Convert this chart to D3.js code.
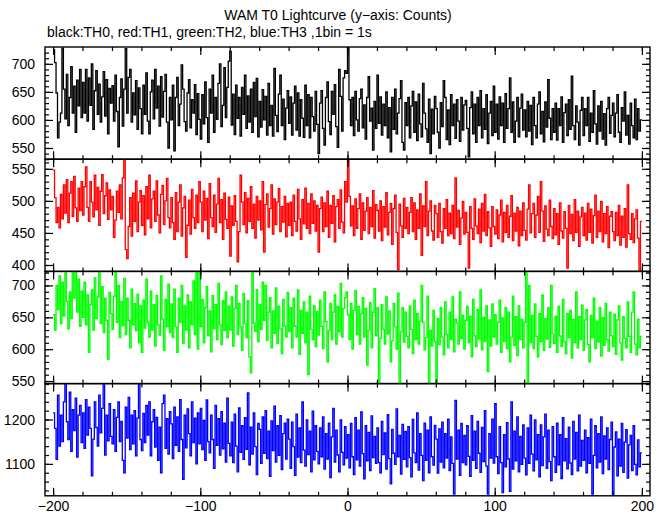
<!DOCTYPE html>
<html><head><meta charset="utf-8">
<script src="https://cdn.jsdelivr.net/npm/d3@7"></script>
<style>body{margin:0;background:#fff;} svg{display:block;} text{font-family:"Liberation Sans",Arial,Helvetica,sans-serif;fill:#000;}</style>
</head><body><svg id="c" width="669" height="515"></svg>
<script>
// ---- data: counts per 1 s bin, bin start from -200 s to 199 s ----
const binStart = -200;
const th0 = [
725,702,648,568,596,612,728,655,602,681,590,640,695,612,660,578,671,625,690,604,
667,612,690,598,675,626,700,583,652,688,610,664,596,641,686,607,672,575,656,630,
661,598,680,615,552,640,673,589,655,727,612,676,690,596,648,609,670,583,657,620,
575,662,610,684,598,575,650,671,602,690,621,660,589,677,605,651,681,596,550,640,
600,662,545,640,676,590,628,698,655,597,580,648,672,586,636,612,663,574,647,601,
566,645,593,668,604,560,655,612,680,578,640,601,665,700,588,626,693,604,658,705,
722,591,646,574,662,603,640,571,658,610,680,585,643,596,655,578,667,606,674,570,
633,587,654,600,642,573,665,590,626,571,692,608,579,646,680,590,637,565,621,652,
594,641,573,630,660,582,648,571,636,603,569,662,590,645,568,640,606,580,651,592,
540,630,652,585,555,640,668,597,574,651,610,663,588,551,690,642,580,675,688,683,
745,636,590,640,572,651,600,580,638,655,586,627,566,640,677,598,621,546,633,585,
680,594,641,573,628,590,650,568,622,543,640,583,655,575,612,638,670,560,546,631,
590,640,568,625,651,578,632,563,646,593,570,665,612,584,560,637,540,619,575,642,
620,578,550,631,588,670,640,565,618,556,645,590,628,567,636,598,562,640,582,627,
635,585,534,622,650,575,628,560,640,590,652,568,620,583,645,558,612,633,572,660,
578,628,566,641,590,630,560,647,585,620,675,578,632,560,598,640,570,621,646,582,
618,570,633,580,626,556,640,590,568,628,650,575,615,561,632,587,672,603,565,620,
578,630,564,620,590,641,560,613,628,572,636,583,678,590,565,625,596,555,617,640,
572,620,590,640,562,612,578,652,593,557,625,580,633,566,611,555,620,640,576,608,
630,570,612,645,578,560,622,598,650,573,608,557,630,590,568,637,565,620,580,600];
const th1 = [
548,505,466,490,458,510,472,525,481,533,466,512,530,476,538,489,468,520,485,530,
478,522,553,490,468,530,498,475,540,486,521,462,515,541,480,508,528,471,517,486,
507,443,470,515,482,525,472,536,564,424,410,460,505,445,512,468,531,452,498,516,
462,508,447,522,472,540,458,503,515,468,531,478,450,510,524,463,500,535,474,458,
505,466,440,513,452,498,525,445,489,507,412,462,501,448,518,474,457,509,466,530,
498,452,515,470,504,441,527,474,460,509,451,495,535,466,502,440,512,471,457,506,
414,492,462,508,468,405,452,540,498,463,513,450,504,468,522,457,495,442,507,470,
500,455,530,420,494,511,459,488,525,448,503,463,498,519,452,491,467,507,444,496,
462,498,446,509,468,453,518,472,440,502,464,520,457,496,449,511,465,500,453,493,
420,488,506,452,497,460,515,443,493,465,508,436,491,502,457,517,467,450,530,498,
568,507,461,492,446,503,457,488,511,440,497,454,484,505,449,490,460,516,442,494,
485,453,500,438,491,459,513,447,482,496,432,488,509,451,393,495,461,443,504,457,
490,449,482,505,452,497,440,486,457,511,415,492,460,530,446,484,500,453,439,493,
480,443,496,452,434,488,457,502,446,481,449,493,441,536,459,485,432,473,499,448,
482,451,395,491,457,440,503,461,449,487,435,496,453,510,446,483,458,429,491,460,
448,486,441,478,501,436,482,451,493,443,476,508,438,481,453,490,430,484,446,497,
454,439,487,525,450,480,496,443,478,507,451,530,484,437,492,456,446,501,460,441,
488,447,480,432,497,453,442,483,457,395,493,449,479,438,502,451,484,429,475,490,
446,481,439,496,451,487,434,477,509,443,484,452,499,436,480,449,491,427,476,483,
452,438,482,446,493,431,476,443,488,428,525,449,440,480,435,472,486,442,390,468];
const th2 = [
654,630,700,662,715,640,705,652,722,675,632,690,648,722,680,725,658,710,636,691,
650,705,638,685,595,670,693,630,712,648,682,724,640,698,626,680,645,584,689,656,
631,683,722,642,700,618,675,637,711,623,680,645,602,694,638,672,629,686,610,668,
595,677,633,710,642,619,691,630,670,605,684,638,622,715,647,598,678,635,702,626,
671,618,694,635,595,680,642,700,609,668,630,685,602,674,638,707,623,724,600,720,
635,678,610,665,698,621,660,596,684,632,670,615,703,638,607,676,629,690,618,667,
630,682,605,664,700,623,672,635,598,687,640,618,676,588,563,724,641,628,693,612,
670,631,705,645,700,614,658,681,602,660,625,696,609,667,632,593,678,636,619,689,
628,665,602,680,636,619,693,592,661,625,674,610,658,560,683,631,615,668,604,659,
622,677,636,601,690,643,580,629,672,615,658,685,608,667,627,703,619,664,681,690,
654,615,672,600,661,692,623,667,608,656,681,619,664,575,630,673,602,658,695,621,
665,546,617,670,631,608,682,624,660,580,613,672,635,600,688,546,627,665,611,658,
620,602,668,631,593,677,615,656,608,644,700,642,599,618,683,546,630,605,661,612,
546,648,607,665,619,591,674,623,602,658,615,682,596,647,641,608,690,617,653,600,
645,667,610,652,588,678,621,604,662,616,693,599,650,612,668,565,646,605,671,619,
654,608,642,677,595,649,612,665,601,658,580,619,683,606,651,590,668,615,647,602,
642,724,546,700,610,653,601,671,620,588,656,612,685,598,648,616,665,603,700,624,
609,652,595,667,621,604,678,612,593,656,618,661,586,647,610,690,602,651,615,669,
598,646,662,607,580,653,618,680,601,644,611,665,589,650,606,672,615,597,658,621,
604,655,592,646,668,610,583,651,617,602,674,620,595,658,690,608,591,647,602,620];
const th3 = [
1215,1180,1110,1255,1140,1210,1150,1240,1285,1195,1155,1262,1128,1222,1175,1248,1115,1210,1232,1148,
1215,1135,1245,1165,1228,1180,1073,1156,1240,1182,1140,1255,1170,1225,1278,1120,1210,1152,1236,1162,
1145,1222,1128,1205,1240,1150,1196,1108,1080,1228,1158,1250,1132,1210,1145,1220,1118,1203,1285,1155,
1130,1214,1148,1232,1165,1240,1118,1195,1222,1138,1205,1108,1183,1080,1236,1255,1135,1202,1122,1218,
1190,1112,1228,1142,1206,1128,1245,1155,1065,1210,1136,1224,1168,1118,1240,1148,1203,1100,1215,1145,
1225,1132,1198,1108,1244,1150,1125,1210,1155,1090,1232,1142,1202,1120,1218,1134,1192,1104,1248,1146,
1118,1194,1103,1212,1140,1082,1226,1126,1186,1110,1204,1133,1260,1098,1183,1122,1215,1139,1076,1191,
1178,1101,1206,1124,1220,1112,1174,1072,1197,1130,1230,1104,1186,1119,1209,1087,1168,1192,1111,1201,
1156,1090,1194,1139,1074,1212,1115,1181,1103,1240,1131,1095,1199,1121,1174,1082,1219,1109,1186,1128,
1100,1181,1116,1206,1088,1168,1111,1192,1069,1161,1225,1104,1176,1120,1082,1199,1126,1098,1184,1113,
1166,1091,1191,1116,1076,1204,1109,1176,1095,1217,1123,1066,1186,1107,1171,1085,1208,1114,1162,1101,
1181,1103,1080,1196,1121,1170,1088,1211,1112,1055,1178,1124,1099,1224,1116,1164,1077,1189,1110,1173,
1093,1184,1114,1071,1200,1125,1103,1215,1086,1168,1119,1062,1192,1108,1176,1080,1206,1116,1097,1187,
1156,1079,1179,1104,1194,1091,1168,1113,1201,1085,1161,1101,1032,1243,1111,1176,1074,1191,1103,1164,
1098,1186,1117,1072,1209,1108,1174,1090,1196,1124,1081,1182,1105,1220,1095,1032,1168,1113,1201,1102,
1236,1116,1078,1184,1103,1035,1166,1093,1193,1111,1038,1240,1088,1174,1107,1206,1082,1162,1099,1188,
1113,1075,1181,1101,1210,1122,1084,1199,1109,1166,1071,1188,1096,1161,1212,1090,1176,1105,1062,1184,
1116,1081,1192,1098,1166,1067,1204,1107,1157,1089,1183,1102,1076,1196,1111,1171,1084,1210,1095,1153,
1108,1176,1080,1159,1101,1201,1032,1119,1186,1091,1168,1104,1206,1078,1163,1111,1181,1087,1155,1194,
1030,1138,1172,1073,1156,1095,1191,1081,1149,1177,1068,1143,1164,1085,1186,1099,1075,1154,1093,1125];

const seriesNames = ["TH0","TH1","TH2","TH3"];
const seriesColors = ["#000000","#ff0000","#00ff00","#0000ff"];
const seriesValues = [th0, th1, th2, th3];
const yDomains = [[530,730],[390,565],[546,722],[1028,1281]];
const yMajorTicks = [[550,600,650,700],[400,450,500,550],[550,600,650,700],[1100,1200]];
const yMinorStep = [10,10,10,20];
const xMajorTicks = [-200,-100,0,100,200];
const xMinorStep = 20;
const titleText = "WAM T0 Lightcurve (y\u2212axis: Counts)";
const subtitleText = "black:TH0, red:TH1, green:TH2, blue:TH3 ,1bin = 1s";

// ---- layout ----
const svg = d3.select("#c");
const L = 45, R = 650, T = 47, B = 495.8;
const ph = (B - T) / 4;
const x = d3.scaleLinear().domain([-205.5, 205.5]).range([L, R]);
const fmt = d => d < 0 ? "\u2212" + Math.abs(d) : String(d);

svg.append("text").attr("x", 338).attr("y", 20).attr("text-anchor","middle")
  .style("font-size","14px").text(titleText);
svg.append("text").attr("x", 47).attr("y", 37)
  .style("font-size","14px").text(subtitleText);

const defs = svg.append("defs");
seriesValues.forEach((vals, k) => {
  const top = T + k*ph, bot = top + ph;
  const y = d3.scaleLinear().domain(yDomains[k]).range([bot, top]);
  const g = svg.append("g");
  defs.append("clipPath").attr("id","cp"+k).append("rect")
    .attr("x", L).attr("y", top).attr("width", R-L).attr("height", ph);
  const pts = vals.map((v,i) => [binStart+i, v]);
  pts.push([binStart+vals.length, vals[vals.length-1]]);
  const line = d3.line().x(d => x(d[0])).y(d => y(d[1])).curve(d3.curveStepAfter);
  g.append("path").attr("clip-path","url(#cp"+k+")").attr("d", line(pts))
    .attr("fill","none").attr("stroke", seriesColors[k]).attr("stroke-width",1.3);

  const minor = d3.range(Math.ceil(yDomains[k][0]/yMinorStep[k])*yMinorStep[k], yDomains[k][1], yMinorStep[k]);
  const xMinor = d3.range(-200, 201, xMinorStep);
  const styleAxis = sel => { sel.select(".domain").remove(); sel.selectAll("line").attr("stroke","#000").attr("stroke-width",1.2); };
  // left
  g.append("g").attr("transform",`translate(${L},0)`)
    .call(d3.axisLeft(y).tickValues(minor).tickSize(-4).tickFormat("")).call(styleAxis);
  const la = g.append("g").attr("transform",`translate(${L},0)`)
    .call(d3.axisLeft(y).tickValues(yMajorTicks[k]).tickSize(-8).tickPadding(10).tickFormat(fmt)).call(styleAxis);
  la.selectAll("text").style("font-size","14px").attr("fill","#000");
  // right
  g.append("g").attr("transform",`translate(${R},0)`)
    .call(d3.axisRight(y).tickValues(minor).tickSize(-4).tickFormat("")).call(styleAxis);
  g.append("g").attr("transform",`translate(${R},0)`)
    .call(d3.axisRight(y).tickValues(yMajorTicks[k]).tickSize(-8).tickFormat("")).call(styleAxis);
  // top & bottom
  [[top, d3.axisTop],[bot, d3.axisBottom]].forEach(([yy, ax]) => {
    g.append("g").attr("transform",`translate(0,${yy})`)
      .call(ax(x).tickValues(xMinor).tickSize(-4).tickFormat("")).call(styleAxis);
    g.append("g").attr("transform",`translate(0,${yy})`)
      .call(ax(x).tickValues(xMajorTicks).tickSize(-8).tickFormat("")).call(styleAxis);
  });
  g.append("rect").attr("x",L).attr("y",top).attr("width",R-L).attr("height",ph)
    .attr("fill","none").attr("stroke","#000").attr("stroke-width",1.4);
  if (k === 3) {
    const xa = svg.append("g").attr("transform",`translate(0,${bot})`)
      .call(d3.axisBottom(x).tickValues(xMajorTicks).tickSize(0).tickPadding(5).tickFormat(fmt));
    xa.select(".domain").remove();
    xa.selectAll("text").style("font-size","14px").attr("fill","#000");
  }
});
</script></body></html>
